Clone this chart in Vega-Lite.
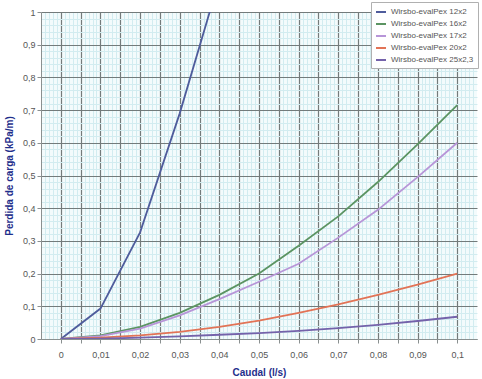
{
  "$schema": "https://vega.github.io/schema/vega-lite/v6.json",
  "width": 436,
  "height": 327,
  "autosize": {"type": "none"},
  "padding": {"left": 41, "top": 12, "right": 5, "bottom": 40},
  "background": "white",
  "config": {
    "view": {"fill": "#f3fbfc", "stroke": null},
    "font": "Liberation Sans"
  },
  "data": {"values": [
    {"q": 0, "s": "Wirsbo-evalPex 12x2", "p": 0},
    {"q": 0.01, "s": "Wirsbo-evalPex 12x2", "p": 0.093},
    {"q": 0.02, "s": "Wirsbo-evalPex 12x2", "p": 0.326},
    {"q": 0.03, "s": "Wirsbo-evalPex 12x2", "p": 0.69},
    {"q": 0.04, "s": "Wirsbo-evalPex 12x2", "p": 1.1},
    {"q": 0, "s": "Wirsbo-evalPex 16x2", "p": 0},
    {"q": 0.01, "s": "Wirsbo-evalPex 16x2", "p": 0.011},
    {"q": 0.02, "s": "Wirsbo-evalPex 16x2", "p": 0.037},
    {"q": 0.03, "s": "Wirsbo-evalPex 16x2", "p": 0.08},
    {"q": 0.04, "s": "Wirsbo-evalPex 16x2", "p": 0.135},
    {"q": 0.05, "s": "Wirsbo-evalPex 16x2", "p": 0.2},
    {"q": 0.06, "s": "Wirsbo-evalPex 16x2", "p": 0.285},
    {"q": 0.07, "s": "Wirsbo-evalPex 16x2", "p": 0.375},
    {"q": 0.08, "s": "Wirsbo-evalPex 16x2", "p": 0.48},
    {"q": 0.09, "s": "Wirsbo-evalPex 16x2", "p": 0.595},
    {"q": 0.1, "s": "Wirsbo-evalPex 16x2", "p": 0.715},
    {"q": 0, "s": "Wirsbo-evalPex 17x2", "p": 0},
    {"q": 0.01, "s": "Wirsbo-evalPex 17x2", "p": 0.009},
    {"q": 0.02, "s": "Wirsbo-evalPex 17x2", "p": 0.032},
    {"q": 0.03, "s": "Wirsbo-evalPex 17x2", "p": 0.072},
    {"q": 0.04, "s": "Wirsbo-evalPex 17x2", "p": 0.122},
    {"q": 0.05, "s": "Wirsbo-evalPex 17x2", "p": 0.175},
    {"q": 0.06, "s": "Wirsbo-evalPex 17x2", "p": 0.23},
    {"q": 0.07, "s": "Wirsbo-evalPex 17x2", "p": 0.31},
    {"q": 0.08, "s": "Wirsbo-evalPex 17x2", "p": 0.395},
    {"q": 0.09, "s": "Wirsbo-evalPex 17x2", "p": 0.495},
    {"q": 0.1, "s": "Wirsbo-evalPex 17x2", "p": 0.6},
    {"q": 0, "s": "Wirsbo-evalPex 20x2", "p": 0},
    {"q": 0.01, "s": "Wirsbo-evalPex 20x2", "p": 0.004},
    {"q": 0.02, "s": "Wirsbo-evalPex 20x2", "p": 0.011},
    {"q": 0.03, "s": "Wirsbo-evalPex 20x2", "p": 0.022},
    {"q": 0.04, "s": "Wirsbo-evalPex 20x2", "p": 0.037},
    {"q": 0.05, "s": "Wirsbo-evalPex 20x2", "p": 0.056},
    {"q": 0.06, "s": "Wirsbo-evalPex 20x2", "p": 0.08},
    {"q": 0.07, "s": "Wirsbo-evalPex 20x2", "p": 0.106},
    {"q": 0.08, "s": "Wirsbo-evalPex 20x2", "p": 0.135},
    {"q": 0.09, "s": "Wirsbo-evalPex 20x2", "p": 0.166},
    {"q": 0.1, "s": "Wirsbo-evalPex 20x2", "p": 0.2},
    {"q": 0, "s": "Wirsbo-evalPex 25x2,3", "p": 0},
    {"q": 0.01, "s": "Wirsbo-evalPex 25x2,3", "p": 0.001},
    {"q": 0.02, "s": "Wirsbo-evalPex 25x2,3", "p": 0.004},
    {"q": 0.03, "s": "Wirsbo-evalPex 25x2,3", "p": 0.008},
    {"q": 0.04, "s": "Wirsbo-evalPex 25x2,3", "p": 0.013},
    {"q": 0.05, "s": "Wirsbo-evalPex 25x2,3", "p": 0.018},
    {"q": 0.06, "s": "Wirsbo-evalPex 25x2,3", "p": 0.025},
    {"q": 0.07, "s": "Wirsbo-evalPex 25x2,3", "p": 0.033},
    {"q": 0.08, "s": "Wirsbo-evalPex 25x2,3", "p": 0.043},
    {"q": 0.09, "s": "Wirsbo-evalPex 25x2,3", "p": 0.055},
    {"q": 0.1, "s": "Wirsbo-evalPex 25x2,3", "p": 0.068}
  ]},
  "resolve": {"axis": {"x": "independent", "y": "independent"}},
  "layer": [
    {
      "mark": {"type": "point", "opacity": 0},
      "encoding": {
        "x": {"field": "q", "type": "quantitative", "scale": {"domain": [-0.005, 0.105], "nice": false},
          "axis": {"values": [-0.004,-0.003,-0.002,-0.001,0.001,0.002,0.003,0.004,0.006,0.007,0.008,0.009,0.011,0.012,0.013,0.014,0.016,0.017,0.018,0.019,0.021,0.022,0.023,0.024,0.026,0.027,0.028,0.029,0.031,0.032,0.033,0.034,0.036,0.037,0.038,0.039,0.041,0.042,0.043,0.044,0.046,0.047,0.048,0.049,0.051,0.052,0.053,0.054,0.056,0.057,0.058,0.059,0.061,0.062,0.063,0.064,0.066,0.067,0.068,0.069,0.071,0.072,0.073,0.074,0.076,0.077,0.078,0.079,0.081,0.082,0.083,0.084,0.086,0.087,0.088,0.089,0.091,0.092,0.093,0.094,0.096,0.097,0.098,0.099,0.101,0.102,0.103,0.104],
            "grid": true, "gridColor": "#d2ecf0", "gridWidth": 1, "labels": false, "ticks": false, "domain": false, "title": null, "orient": "top"}},
        "y": {"field": "p", "type": "quantitative", "scale": {"domain": [0, 1], "nice": false},
          "axis": {"values": [0.02,0.04,0.06,0.08,0.12,0.14,0.16,0.18,0.22,0.24,0.26,0.28,0.32,0.34,0.36,0.38,0.42,0.44,0.46,0.48,0.52,0.54,0.56,0.58,0.62,0.64,0.66,0.68,0.72,0.74,0.76,0.78,0.82,0.84,0.86,0.88,0.92,0.94,0.96,0.98],
            "grid": true, "gridColor": "#d2ecf0", "gridWidth": 1, "labels": false, "ticks": false, "domain": false, "title": null, "orient": "right"}}
      }
    },
    {
      "mark": {"type": "line", "strokeWidth": 1.8, "clip": true},
      "encoding": {
        "x": {"field": "q", "type": "quantitative", "scale": {"domain": [-0.005, 0.105], "nice": false},
          "axis": {"values": [0,0.005,0.01,0.015,0.02,0.025,0.03,0.035,0.04,0.045,0.05,0.055,0.06,0.065,0.07,0.075,0.08,0.085,0.09,0.095,0.1],
            "labelExpr": "round(datum.value*1000) % 10 == 0 ? replace(format(datum.value, '~g'), '.', ',') : ''",
            "grid": true, "gridColor": "#737b7b", "gridWidth": 1.2, "gridOpacity": 1,
            "domainColor": "#8a9090", "tickColor": "#8a9090", "tickSize": 4,
            "labelColor": "#555", "labelFontSize": 9, "labelPadding": 7,
            "title": "Caudal (l/s)", "titleColor": "#1f2f8c", "titleFontSize": 10, "titleFontWeight": "bold", "titlePadding": 8, "orient": "bottom"}},
        "y": {"field": "p", "type": "quantitative", "scale": {"domain": [0, 1], "nice": false},
          "axis": {"values": [0,0.1,0.2,0.3,0.4,0.5,0.6,0.7,0.8,0.9,1],
            "labelExpr": "replace(format(datum.value, '~g'), '.', ',')",
            "grid": true, "gridColor": "#737b7b", "gridWidth": 1.2, "gridOpacity": 1,
            "domainColor": "#8a9090", "tickColor": "#8a9090", "tickSize": 4,
            "labelColor": "#555", "labelFontSize": 9, "labelPadding": 2,
            "title": "Perdida de carga  (kPa/m)", "titleColor": "#1f2f8c", "titleFontSize": 10, "titleFontWeight": "bold", "titlePadding": 8, "orient": "left"}},
        "color": {"field": "s", "type": "nominal",
          "scale": {"domain": ["Wirsbo-evalPex 12x2","Wirsbo-evalPex 16x2","Wirsbo-evalPex 17x2","Wirsbo-evalPex 20x2","Wirsbo-evalPex 25x2,3"],
            "range": ["#4f5c9c","#5b9462","#b795d8","#e27356","#7462aa"]},
          "legend": {"orient": "none", "legendX": 330, "legendY": -10, "title": null,
            "fillColor": "white", "strokeColor": "#b0b0b0", "padding": 4,
            "symbolType": "stroke", "symbolSize": 100, "symbolStrokeWidth": 2, "labelOffset": 4,
            "labelFontSize": 8, "labelColor": "#555", "rowPadding": 2, "labelLimit": 120}}
      }
    }
  ]
}
